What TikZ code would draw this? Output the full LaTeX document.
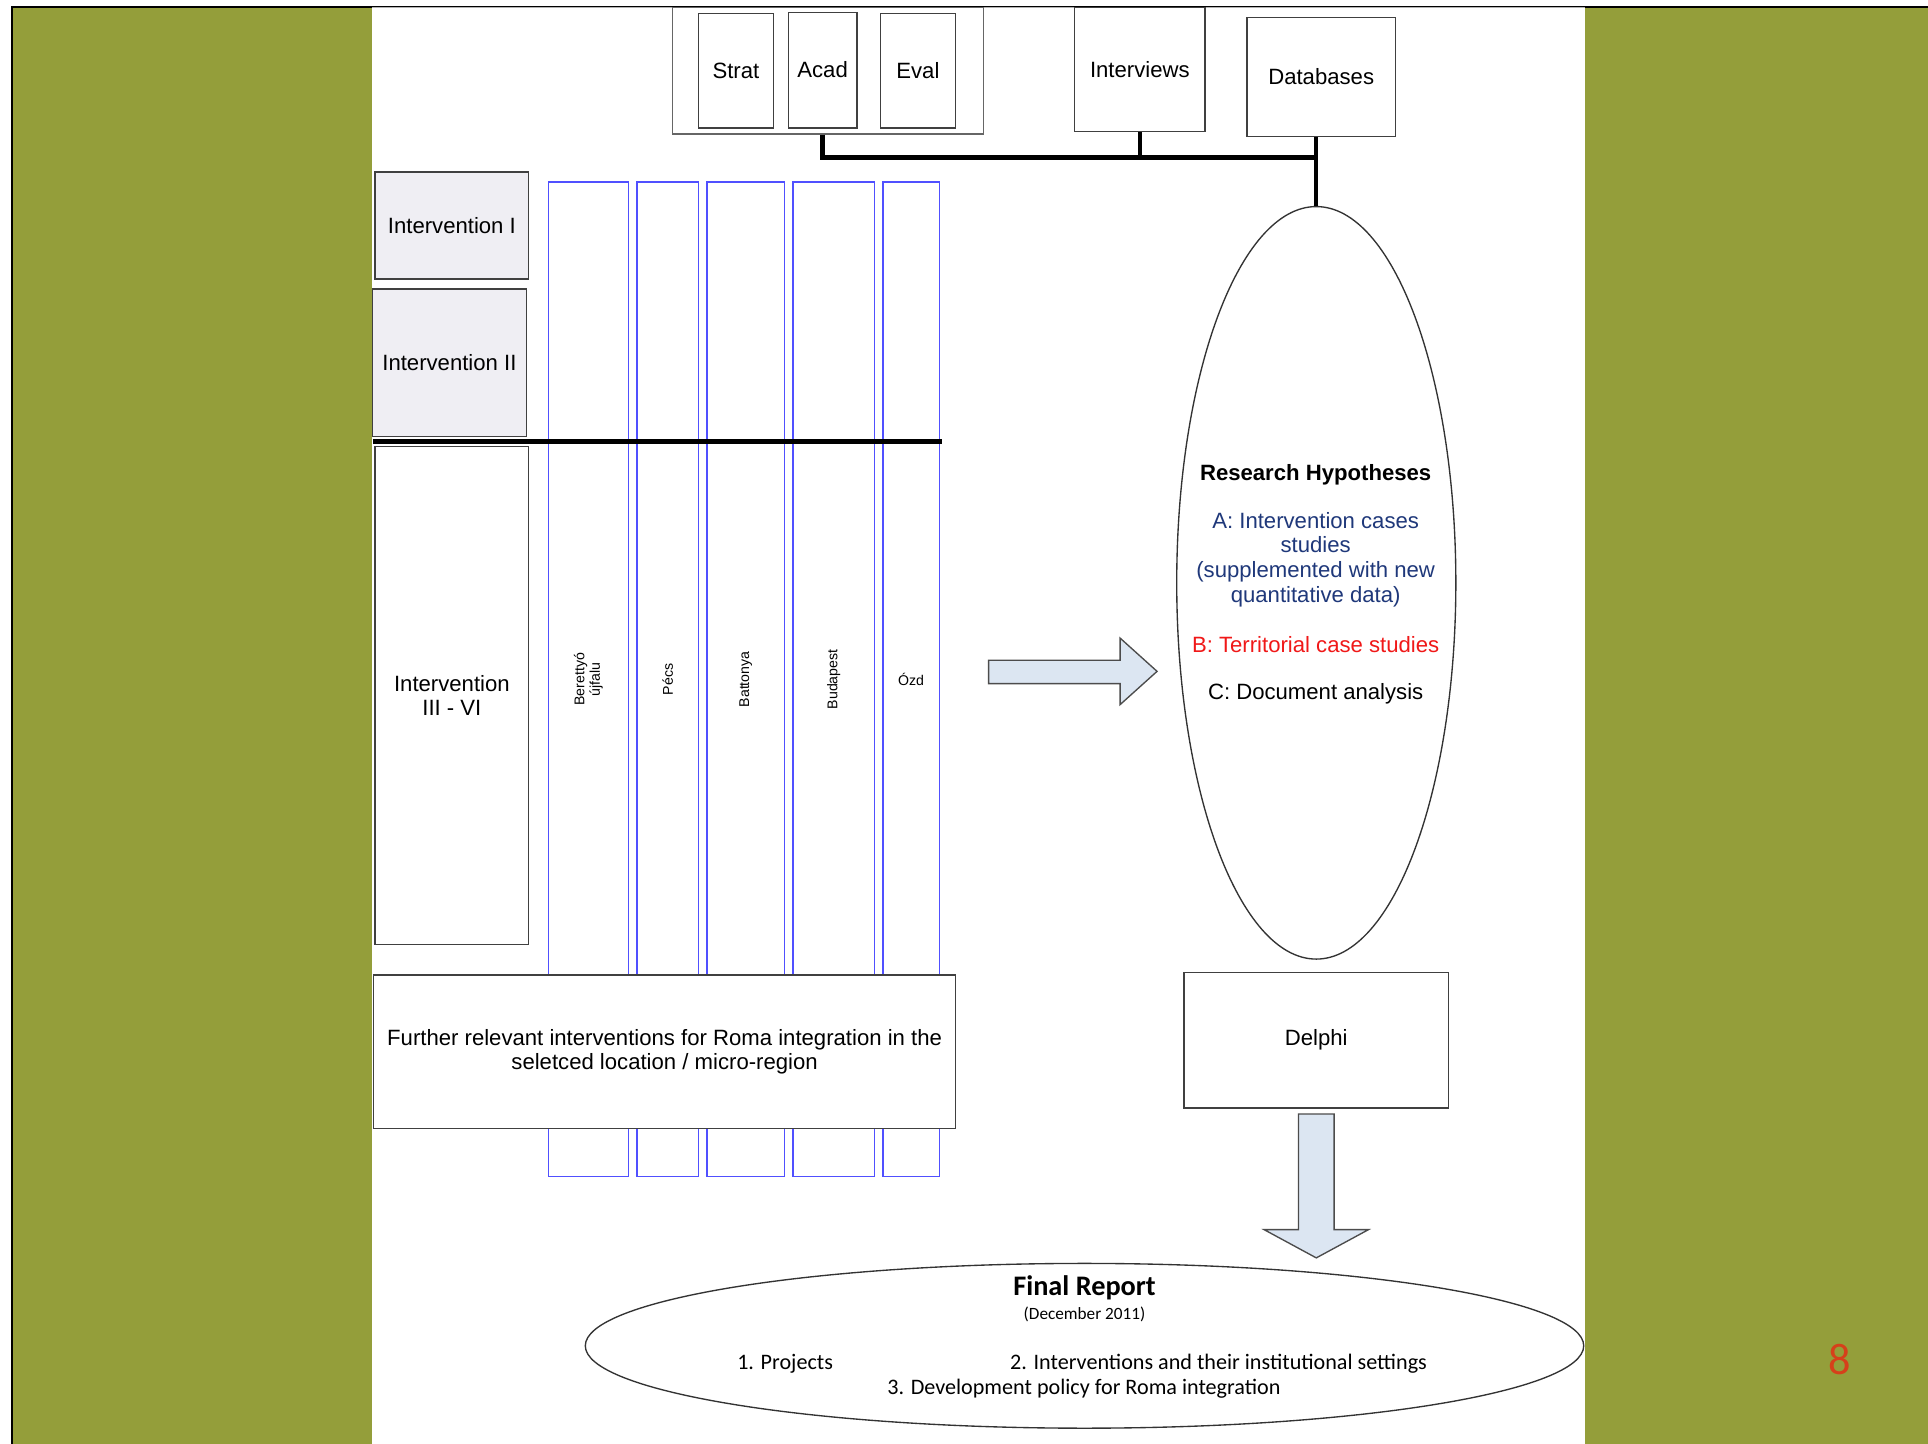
\documentclass[tikz,border=0pt]{standalone}
\usepackage{fontspec}
\setmainfont{Liberation Sans}
\newfontfamily\calfont{Carlito}
\usetikzlibrary{shapes.geometric}

\definecolor{slideolive}{RGB}{148,158,58}
\definecolor{intfill}{RGB}{239,238,243}
\definecolor{colblue}{RGB}{80,80,255}
\definecolor{arrowfill}{RGB}{220,230,242}
\definecolor{hypblue}{RGB}{31,56,122}
\definecolor{hypred}{RGB}{240,24,24}
\definecolor{pagered}{RGB}{214,64,26}

\begin{document}
\begin{tikzpicture}[x=1pt,y=-1pt,font=\fontsize{18}{20}\selectfont,
    box/.style={draw=black!75, line width=1.1pt, fill=white, align=center, inner sep=0pt},
    intbox/.style={box, fill=intfill},
    column/.style={draw=colblue, line width=1.1pt, inner sep=0pt, align=center, font=\fontsize{11.5}{12.5}\selectfont},
    oval/.style={draw=black!80, ellipse, line width=1.1pt, inner sep=0pt, fill=white},
    bus/.style={line width=3.5pt},
    blockarrow/.style={draw=black!70, line width=1.1pt, fill=arrowfill},
    rep/.style={font=\calfont\fontsize{18}{20}\selectfont}]

    % slide
    \useasboundingbox (0,0) rectangle (1568,1174);
    \fill [slideolive] (9.5,6) rectangle (1568,1174);
    \draw [line width=1.5pt] (9.5,1174) -- (9.5,6) -- (1568,6);
    \fill [white] (302.5,6) rectangle (1289,1174);
    \draw [black!30, line width=1pt] (302.5,6) -- (1289,6);

    % sources
    \node [box, draw=black!60, minimum width=253pt, minimum height=103pt] (grp) at (673.5,57.5) {};
    \node [box, minimum width=61pt, minimum height=93pt] (strat) at (598.5,57.5) {Strat};
    \node [box, minimum width=56pt, minimum height=94pt] (acad) at (669,57) {Acad};
    \node [box, minimum width=61pt, minimum height=93pt] (eval) at (746.5,57.5) {Eval};
    \node [box, minimum width=106pt, minimum height=101pt] (intv) at (927,56.5) {Interviews};
    \node [box, minimum width=121pt, minimum height=97pt] (db) at (1074.5,62.5) {Databases};

    % hypotheses
    \node [oval, minimum width=227pt, minimum height=612pt] (hyp) at (1070.5,474) {};
    \node [font=\bfseries\fontsize{18}{20}\selectfont] (hypT) at (1070,386) {Research Hypotheses};
    \node [align=center, text=hypblue] (hypA) at (1070,455) {A: Intervention cases\\studies\\(supplemented with new\\quantitative data)};
    \node [text=hypred] (hypB) at (1070,524) {B: Territorial case studies};
    \node (hypC) at (1070,564) {C: Document analysis};

    \coordinate (busR) at (hyp.north |- 0,128);
    \draw [bus] (acad |- grp.south) |- (busR);
    \draw [bus] (intv.south) -- (intv.south |- busR);
    \draw [bus] (db.south -| hyp.north) -- (hyp.north);

    % locations
    \foreach \i/\cx/\cw/\lab in {1/478.5/65/{Berettyó\\újfalu}, 2/543/50/Pécs, 3/606.5/63/Battonya, 4/678/66/Budapest}
      \node [column, rotate=90, minimum width=809pt, minimum height=\cw] (col\i) at (\cx,552.5) {\lab};
    \node [column, minimum width=46pt, minimum height=809pt] (col5) at (741,552.5) {Ózd};

    % interventions
    \node [intbox, minimum width=125pt, minimum height=87pt] (int1) at (367.5,183.5) {Intervention I};
    \node [intbox, minimum width=125pt, minimum height=120pt] (int2) at (365.5,295) {Intervention II};
    \node [box, minimum width=125pt, minimum height=405pt] (int3) at (367.5,565.5) {Intervention\\III - VI};
    \draw [line width=4.5pt] (303,359) -- (766,359);
    \node [box, minimum width=473pt, minimum height=125pt] (further) at (540.5,855.5)
      {Further relevant interventions for Roma integration in the\\seletced location / micro-region};

    % flow
    \filldraw [blockarrow] (804,537) -- (911,537) -- (911,519) -- (941,546) -- (911,573) -- (911,556) -- (804,556) -- cycle;
    \node [box, minimum width=215pt, minimum height=110pt] (delphi) at (1070.5,846) {Delphi};
    \filldraw [blockarrow] (1056,906) -- (1056,1000) -- (1028,1000) -- (1070.5,1023) -- (1113,1000) -- (1085,1000) -- (1085,906) -- cycle;

    % final report
    \node [oval, minimum width=812pt, minimum height=134pt] (rep) at (882,1094.5) {};
    \node [font=\calfont\bfseries\fontsize{23}{26}\selectfont] (repT) at (882,1047) {Final Report};
    \node [font=\calfont\fontsize{14}{16}\selectfont] (repD) at (882,1069) {(December 2011)};
    \node [rep] (rep1) at (638.5,1109) {1. Projects};
    \node [rep] (rep2) at (991,1109) {2. Interventions and their institutional settings};
    \node [rep] (rep3) at (881.5,1129) {3. Development policy for Roma integration};

    \node [text=pagered, font=\calfont\fontsize{36}{40}\selectfont] (pagenum) at (1496,1105.5) {8};
\end{tikzpicture}
\end{document}
